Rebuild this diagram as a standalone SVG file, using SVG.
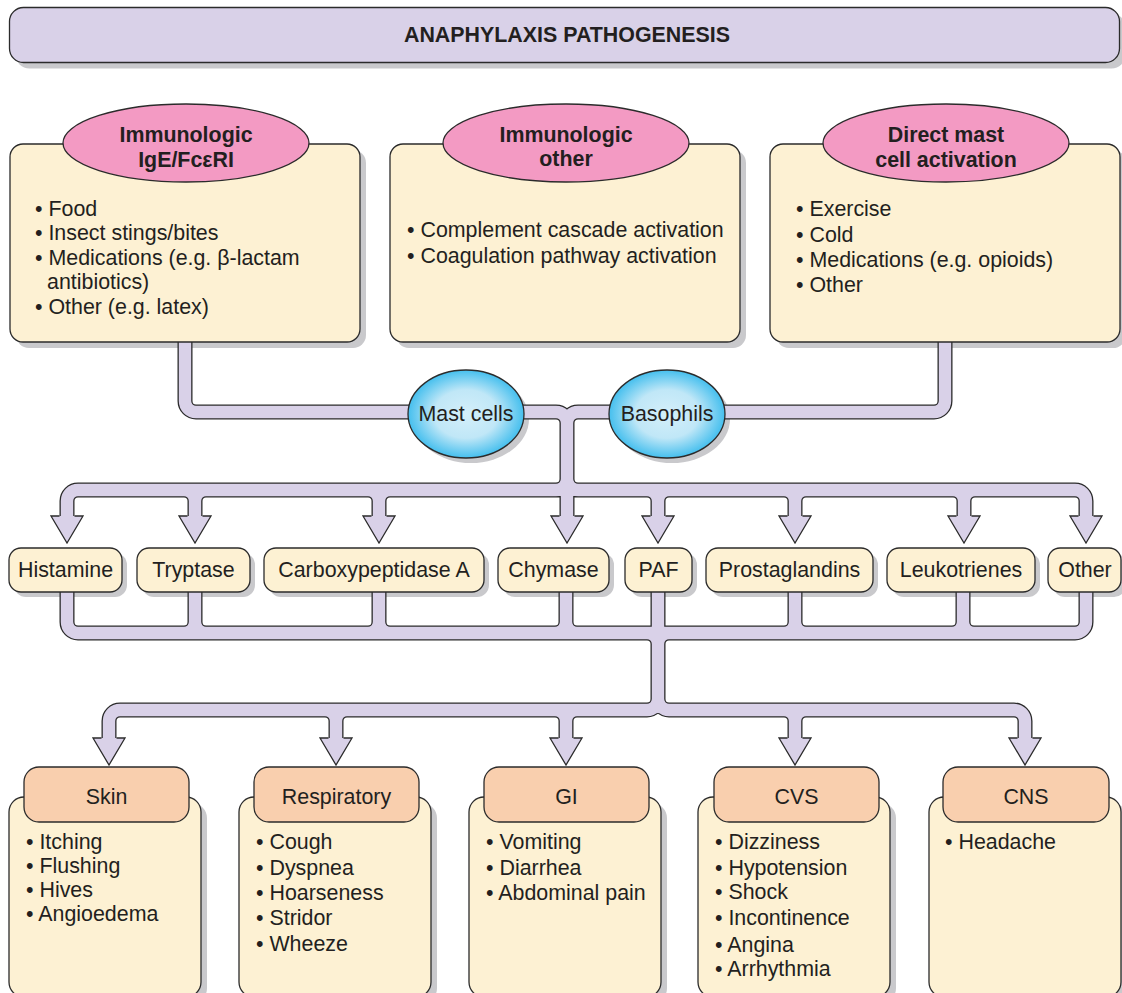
<svg xmlns="http://www.w3.org/2000/svg" xmlns:xlink="http://www.w3.org/1999/xlink" width="1122" height="993" viewBox="0 0 1122 993">
<style>
.t{font-family:"Liberation Sans",Arial,sans-serif;font-size:21.4px;fill:#231f20}
.b{font-weight:bold}
.c{text-anchor:middle}
.sh{fill:#c9c9cc}
.box{fill:#fdf1d3;stroke:#2b2b2b;stroke-width:1.3}
.pink{fill:#f39ac3;stroke:#2b2b2b;stroke-width:1.3}
.hdr{fill:#f9cfae;stroke:#2b2b2b;stroke-width:1.3}
.title{fill:#d9d1e8;stroke:#2b2b2b;stroke-width:1.3}
.cell{fill:url(#blue);stroke:#2b2b2b;stroke-width:1.3}
.po{fill:none;stroke:#2b2b2b;stroke-width:15}
.pi{fill:none;stroke:#d9d1e8;stroke-width:12.4}
.ah{fill:#d9d1e8;stroke:#2b2b2b;stroke-width:1.3;stroke-linejoin:miter}
</style>
<defs>
<radialGradient id="blue" cx="50%" cy="50%" r="50%">
<stop offset="0" stop-color="#d4effa"/>
<stop offset="0.55" stop-color="#c0e7f7"/>
<stop offset="1" stop-color="#45bfee"/>
</radialGradient>
<path id="ah" d="M -7.5 0 H -16 L 0 27 L 16 0 H 7.5"/>
<path id="pipes" d="M 185 342 V 401 A 11 11 0 0 0 196 412 H 420
M 945 342 V 401 A 11 11 0 0 1 934 412 H 700
M 510 412 H 556 A 11 11 0 0 1 567 423 V 516
M 620 412 H 578 A 11 11 0 0 0 567 423
M 567 479 A 11 11 0 0 1 556 490 H 78 A 11 11 0 0 0 67 501 V 516
M 567 479 A 11 11 0 0 0 578 490 H 1075 A 11 11 0 0 1 1086 501 V 516
M 184 490 A 11 11 0 0 1 195 501 V 516 M 206 490 A 11 11 0 0 0 195 501
M 368 490 A 11 11 0 0 1 379 501 V 516 M 390 490 A 11 11 0 0 0 379 501
M 647 490 A 11 11 0 0 1 658 501 V 516 M 669 490 A 11 11 0 0 0 658 501
M 784 490 A 11 11 0 0 1 795 501 V 516 M 806 490 A 11 11 0 0 0 795 501
M 953 490 A 11 11 0 0 1 964 501 V 516 M 975 490 A 11 11 0 0 0 964 501
M 67 592 V 622 A 11 11 0 0 0 78 633 H 1075 A 11 11 0 0 0 1086 622 V 592
M 195 592 V 622 A 11 11 0 0 1 184 633 M 195 622 A 11 11 0 0 0 206 633
M 379 592 V 622 A 11 11 0 0 1 368 633 M 379 622 A 11 11 0 0 0 390 633
M 566 592 V 622 A 11 11 0 0 1 555 633 M 566 622 A 11 11 0 0 0 577 633
M 795 592 V 622 A 11 11 0 0 1 784 633 M 795 622 A 11 11 0 0 0 806 633
M 963 592 V 622 A 11 11 0 0 1 952 633 M 963 622 A 11 11 0 0 0 974 633
M 658 592 V 699 M 647 633 A 11 11 0 0 1 658 644 M 669 633 A 11 11 0 0 0 658 644
M 658 699 A 11 11 0 0 1 647 710 H 120 A 11 11 0 0 0 109 721 V 738
M 658 699 A 11 11 0 0 0 669 710 H 1014 A 11 11 0 0 1 1025 721 V 738
M 325 710 A 11 11 0 0 1 336 721 V 738 M 347 710 A 11 11 0 0 0 336 721
M 555 710 A 11 11 0 0 1 566 721 V 738 M 577 710 A 11 11 0 0 0 566 721
M 784 710 A 11 11 0 0 1 795 721 V 738 M 806 710 A 11 11 0 0 0 795 721"/>
</defs>

<g id="shadows">
<rect class="sh" x="15.5" y="13.5" width="1110" height="55" rx="14"/>
<rect class="sh" x="16" y="150" width="350" height="198" rx="13"/>
<rect class="sh" x="396" y="150" width="350" height="198" rx="13"/>
<rect class="sh" x="776" y="150" width="350" height="198" rx="13"/>
<ellipse class="sh" cx="471" cy="419" rx="58" ry="44"/>
<ellipse class="sh" cx="672" cy="419" rx="58" ry="44"/>
<rect class="sh" x="14" y="553" width="113" height="44" rx="12"/>
<rect class="sh" x="142" y="553" width="113" height="44" rx="12"/>
<rect class="sh" x="269" y="553" width="220" height="44" rx="12"/>
<rect class="sh" x="503" y="553" width="111" height="44" rx="12"/>
<rect class="sh" x="630" y="553" width="67" height="44" rx="12"/>
<rect class="sh" x="711" y="553" width="167" height="44" rx="12"/>
<rect class="sh" x="892" y="553" width="148" height="44" rx="12"/>
<rect class="sh" x="1053" y="553" width="73" height="44" rx="12"/>
<rect class="sh" x="15" y="803" width="192" height="200" rx="15"/>
<rect class="sh" x="245" y="803" width="192" height="200" rx="15"/>
<rect class="sh" x="475" y="803" width="192" height="200" rx="15"/>
<rect class="sh" x="704" y="803" width="192" height="200" rx="15"/>
<rect class="sh" x="935" y="803" width="192" height="200" rx="15"/>
</g>

<g id="connectors">
<use xlink:href="#pipes" class="po"/>
<use xlink:href="#pipes" class="pi"/>
<use xlink:href="#ah" class="ah" x="67" y="516"/>
<use xlink:href="#ah" class="ah" x="195" y="516"/>
<use xlink:href="#ah" class="ah" x="379" y="516"/>
<use xlink:href="#ah" class="ah" x="567" y="516"/>
<use xlink:href="#ah" class="ah" x="658" y="516"/>
<use xlink:href="#ah" class="ah" x="795" y="516"/>
<use xlink:href="#ah" class="ah" x="964" y="516"/>
<use xlink:href="#ah" class="ah" x="1086" y="516"/>
<use xlink:href="#ah" class="ah" x="109" y="738"/>
<use xlink:href="#ah" class="ah" x="336" y="738"/>
<use xlink:href="#ah" class="ah" x="566" y="738"/>
<use xlink:href="#ah" class="ah" x="795" y="738"/>
<use xlink:href="#ah" class="ah" x="1025" y="738"/>
</g>

<g id="title">
<rect class="title" x="9.5" y="7.5" width="1110" height="55" rx="14"/>
<text class="t b c" x="567" y="42">ANAPHYLAXIS PATHOGENESIS</text>
</g>

<g id="src-ige">
<rect class="box" x="10" y="144" width="350" height="198" rx="13"/>
<ellipse class="pink" cx="186" cy="143" rx="123" ry="39"/>
<text class="t b c" x="186" y="142">Immunologic</text>
<text class="t b c" x="186" y="167">IgE/FcεRI</text>
<text class="t" x="35" y="216">• Food</text>
<text class="t" x="35" y="240">• Insect stings/bites</text>
<text class="t" x="35" y="265">• Medications (e.g. β-lactam</text>
<text class="t" x="47" y="289">antibiotics)</text>
<text class="t" x="35" y="314">• Other (e.g. latex)</text>
</g>

<g id="src-other">
<rect class="box" x="390" y="144" width="350" height="198" rx="13"/>
<ellipse class="pink" cx="566" cy="143" rx="123" ry="39"/>
<text class="t b c" x="566" y="142">Immunologic</text>
<text class="t b c" x="566" y="166">other</text>
<text class="t" x="407" y="237">• Complement cascade activation</text>
<text class="t" x="407" y="263">• Coagulation pathway activation</text>
</g>

<g id="src-direct">
<rect class="box" x="770" y="144" width="350" height="198" rx="13"/>
<ellipse class="pink" cx="946" cy="143" rx="123" ry="39"/>
<text class="t b c" x="946" y="142">Direct mast</text>
<text class="t b c" x="946" y="167">cell activation</text>
<text class="t" x="796" y="216">• Exercise</text>
<text class="t" x="796" y="242">• Cold</text>
<text class="t" x="796" y="267">• Medications (e.g. opioids)</text>
<text class="t" x="796" y="292">• Other</text>
</g>

<g id="mast-cells">
<ellipse class="cell" cx="466" cy="414" rx="58" ry="44"/>
<text class="t c" x="466" y="421">Mast cells</text>
</g>
<g id="basophils">
<ellipse class="cell" cx="667" cy="414" rx="58" ry="44"/>
<text class="t c" x="667" y="421">Basophils</text>
</g>

<g id="histamine"><rect class="box" x="9" y="548" width="113" height="44" rx="12"/><text class="t c" x="65.5" y="577">Histamine</text></g>
<g id="tryptase"><rect class="box" x="137" y="548" width="113" height="44" rx="12"/><text class="t c" x="193.5" y="577">Tryptase</text></g>
<g id="carboxypeptidase"><rect class="box" x="264" y="548" width="220" height="44" rx="12"/><text class="t c" x="374" y="577">Carboxypeptidase A</text></g>
<g id="chymase"><rect class="box" x="498" y="548" width="111" height="44" rx="12"/><text class="t c" x="553.5" y="577">Chymase</text></g>
<g id="paf"><rect class="box" x="625" y="548" width="67" height="44" rx="12"/><text class="t c" x="658.5" y="577">PAF</text></g>
<g id="prostaglandins"><rect class="box" x="706" y="548" width="167" height="44" rx="12"/><text class="t c" x="789.5" y="577">Prostaglandins</text></g>
<g id="leukotrienes"><rect class="box" x="887" y="548" width="148" height="44" rx="12"/><text class="t c" x="961" y="577">Leukotrienes</text></g>
<g id="other"><rect class="box" x="1048" y="548" width="73" height="44" rx="12"/><text class="t c" x="1085" y="577">Other</text></g>

<g id="skin">
<rect class="box" x="9" y="797" width="192" height="200" rx="15"/>
<rect class="hdr" x="24" y="767" width="165" height="55" rx="15"/>
<text class="t c" x="106.5" y="804">Skin</text>
<text class="t" x="26" y="849">• Itching</text>
<text class="t" x="26" y="873">• Flushing</text>
<text class="t" x="26" y="897">• Hives</text>
<text class="t" x="26" y="921">• Angioedema</text>
</g>

<g id="respiratory">
<rect class="box" x="239" y="797" width="192" height="200" rx="15"/>
<rect class="hdr" x="254" y="767" width="165" height="55" rx="15"/>
<text class="t c" x="336.5" y="804">Respiratory</text>
<text class="t" x="256" y="849">• Cough</text>
<text class="t" x="256" y="875">• Dyspnea</text>
<text class="t" x="256" y="900">• Hoarseness</text>
<text class="t" x="256" y="925">• Stridor</text>
<text class="t" x="256" y="951">• Wheeze</text>
</g>

<g id="gi">
<rect class="box" x="469" y="797" width="192" height="200" rx="15"/>
<rect class="hdr" x="484" y="767" width="165" height="55" rx="15"/>
<text class="t c" x="566.5" y="804">GI</text>
<text class="t" x="486" y="849">• Vomiting</text>
<text class="t" x="486" y="875">• Diarrhea</text>
<text class="t" x="486" y="900">• Abdominal pain</text>
</g>

<g id="cvs">
<rect class="box" x="698" y="797" width="192" height="200" rx="15"/>
<rect class="hdr" x="714" y="767" width="165" height="55" rx="15"/>
<text class="t c" x="796.5" y="804">CVS</text>
<text class="t" x="715" y="849">• Dizziness</text>
<text class="t" x="715" y="875">• Hypotension</text>
<text class="t" x="715" y="899">• Shock</text>
<text class="t" x="715" y="925">• Incontinence</text>
<text class="t" x="715" y="952">• Angina</text>
<text class="t" x="715" y="976">• Arrhythmia</text>
</g>

<g id="cns">
<rect class="box" x="929" y="797" width="192" height="200" rx="15"/>
<rect class="hdr" x="943" y="767" width="166" height="55" rx="15"/>
<text class="t c" x="1026" y="804">CNS</text>
<text class="t" x="945" y="849">• Headache</text>
</g>
</svg>
